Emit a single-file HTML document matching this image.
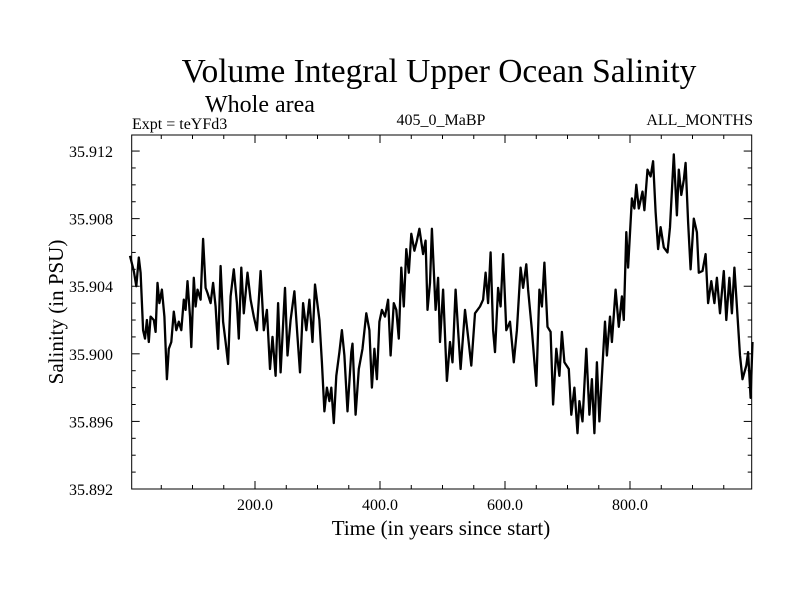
<!DOCTYPE html>
<html><head><meta charset="utf-8"><style>
body{margin:0;background:#fff;}
svg text{font-family:"Liberation Serif",serif;fill:#000;}
</style></head><body>
<svg id="chart" width="800" height="600" xmlns="http://www.w3.org/2000/svg">
<text x="439" y="82" font-size="33.5" text-anchor="middle">Volume Integral Upper Ocean Salinity</text>
<text x="260" y="112" font-size="24" text-anchor="middle">Whole area</text>
<text x="132" y="129" font-size="16">Expt = teYFd3</text>
<text x="441" y="125" font-size="16" text-anchor="middle">405_0_MaBP</text>
<text x="753" y="125" font-size="16" text-anchor="end">ALL_MONTHS</text>
<text x="441" y="535" font-size="21" text-anchor="middle">Time (in years since start)</text>
<text transform="translate(63,312) rotate(-90)" font-size="21" text-anchor="middle">Salinity (in PSU)</text>
<g id="axes"></g>
<g id="series"></g>
<rect x="131.7" y="135" width="620" height="354" fill="none" stroke="#000" stroke-width="1"/>
</svg>
<script>
const years=[0,6,10,14,17,21,24,27,30,33,38,41,44,47,51,55,59,62,66,70,74,78,82,86,89,92,96,98,102,105,108,113,117,121,124,129,133,137,141,145,149,153,157,161,166,171,174,178,182,188,193,198,203,209,214,219,224,228,233,237,241,248,252,257,263,268,272,277,282,287,292,296,303,307,311,315,319,322,326,330,335,339,343,348,354,356,361,366,372,378,383,387,391,395,399,403,408,413,417,422,426,430,434,438,442,446,450,455,459,463,469,473,476,480,483,489,493,496,501,507,512,516,521,525,529,536,541,546,552,560,565,569,573,577,581,584,589,593,597,602,608,614,619,625,629,634,637,643,650,655,659,663,668,673,677,682,687,691,695,702,706,711,716,719,724,730,735,739,743,747,751,755,760,763,768,771,777,782,787,790,794,797,803,807,810,814,820,823,828,833,837,841,845,849,854,860,864,870,875,878,882,886,889,893,897,902,907,910,916,921,925,930,935,939,944,950,954,959,963,967,971,976,980,986,989,993,996];
const salinity=[35.9058,35.9049,35.9040,35.9057,35.9048,35.9014,35.9009,35.9020,35.9007,35.9022,35.9020,35.9013,35.9042,35.9030,35.9038,35.9022,35.8985,35.9003,35.9007,35.9025,35.9014,35.9019,35.9014,35.9032,35.9026,35.9043,35.9022,35.9004,35.9045,35.9028,35.9038,35.9032,35.9068,35.9039,35.9036,35.9030,35.9042,35.9028,35.9003,35.9052,35.9019,35.9007,35.8994,35.9034,35.9050,35.9030,35.9009,35.9051,35.9024,35.9048,35.9032,35.9022,35.9014,35.9049,35.9014,35.9026,35.8991,35.9010,35.8987,35.9030,35.8989,35.9039,35.8999,35.9020,35.9037,35.9010,35.8989,35.9030,35.9014,35.9032,35.9007,35.9041,35.9020,35.8995,35.8966,35.8980,35.8972,35.8980,35.8959,35.8987,35.9001,35.9014,35.8999,35.8966,35.9001,35.9006,35.8964,35.8991,35.9003,35.9024,35.9014,35.8980,35.9003,35.8985,35.9019,35.9026,35.9022,35.9032,35.8999,35.9030,35.9026,35.9009,35.9051,35.9028,35.9062,35.9048,35.9071,35.9061,35.9067,35.9074,35.9059,35.9067,35.9026,35.9042,35.9074,35.9026,35.9045,35.9007,35.9038,35.8984,35.9007,35.8995,35.9038,35.9014,35.8991,35.9026,35.9010,35.8993,35.9024,35.9028,35.9032,35.9048,35.9030,35.9060,35.9014,35.9001,35.9039,35.9028,35.9059,35.9014,35.9019,35.8995,35.9014,35.9051,35.9039,35.9053,35.9038,35.9014,35.8981,35.9038,35.9028,35.9054,35.9016,35.9013,35.8970,35.9003,35.8987,35.9013,35.8995,35.8991,35.8964,35.8980,35.8953,35.8972,35.8960,35.9003,35.8964,35.8985,35.8953,35.8995,35.8960,35.8987,35.9019,35.8999,35.9022,35.9007,35.9038,35.9016,35.9034,35.9020,35.9072,35.9051,35.9092,35.9086,35.9100,35.9086,35.9096,35.9085,35.9109,35.9105,35.9114,35.9084,35.9062,35.9075,35.9063,35.9060,35.9075,35.9118,35.9082,35.9109,35.9094,35.9103,35.9113,35.9078,35.9050,35.9080,35.9072,35.9048,35.9049,35.9059,35.9030,35.9043,35.9030,35.9045,35.9024,35.9049,35.9020,35.9045,35.9024,35.9051,35.9028,35.8999,35.8985,35.8993,35.9001,35.8974,35.9007];
const xTicks=[200,400,600,800];
const xTickLabels=["200.0","400.0","600.0","800.0"];
const yTicks=[35.892,35.896,35.900,35.904,35.908,35.912];
const yTickLabels=["35.892","35.896","35.900","35.904","35.908","35.912"];

const X0=131.7,X1=751.7,Y0=489,Y1=135;
const xMin=2.7,xMax=994.7,yMin=35.892,yMax=35.91295;
function xs(v){return X0+(v-xMin)/(xMax-xMin)*(X1-X0);}
function ys(v){return Y0-(v-yMin)/(yMax-yMin)*(Y0-Y1);}
const NS="http://www.w3.org/2000/svg";
const axes=document.getElementById('axes');
function line(x1,y1,x2,y2,name){
  const l=document.createElementNS(NS,'line');
  l.setAttribute('x1',x1);l.setAttribute('y1',y1);l.setAttribute('x2',x2);l.setAttribute('y2',y2);
  l.setAttribute('stroke','#000');l.setAttribute('stroke-width','1');
  
  
  axes.appendChild(l);
}
for(let v=50;v<xMax;v+=50){
  const x=xs(v),major=(v%200===0),len=major?8:4;
  line(x,Y0,x,Y0-len,'x-tick');
  line(x,Y1,x,Y1+len,'x-tick-top');
}
for(let v=yMin+0.001;v<yMax-0.0001;v+=0.001){
  const y=ys(v),major=Math.abs(Math.round(v*1000)%4)===0,len=major?8:4;
  line(X0,y,X0+len,y,'y-tick');
  line(X1,y,X1-len,y,'y-tick-right');
}
xTicks.forEach((v,i)=>{
  const t=document.createElementNS(NS,'text');
  t.setAttribute('x',xs(v));t.setAttribute('y',510);
  t.setAttribute('font-size','16');t.setAttribute('text-anchor','middle');
  t.textContent=xTickLabels[i];
  
  
  axes.appendChild(t);
});
yTicks.forEach((v,i)=>{
  const t=document.createElementNS(NS,'text');
  t.setAttribute('x',113);t.setAttribute('y',ys(v)+6);
  t.setAttribute('font-size','16');t.setAttribute('text-anchor','end');
  t.textContent=yTickLabels[i];
  
  
  axes.appendChild(t);
});
const p=document.createElementNS(NS,'polyline');
p.setAttribute('points',years.map((yr,i)=>xs(yr).toFixed(1)+','+ys(salinity[i]).toFixed(1)).join(' '));
p.setAttribute('fill','none');p.setAttribute('stroke','#000');p.setAttribute('stroke-width','2.3');
p.setAttribute('stroke-linejoin','round');


document.getElementById('series').appendChild(p);
</script>
</body></html>
